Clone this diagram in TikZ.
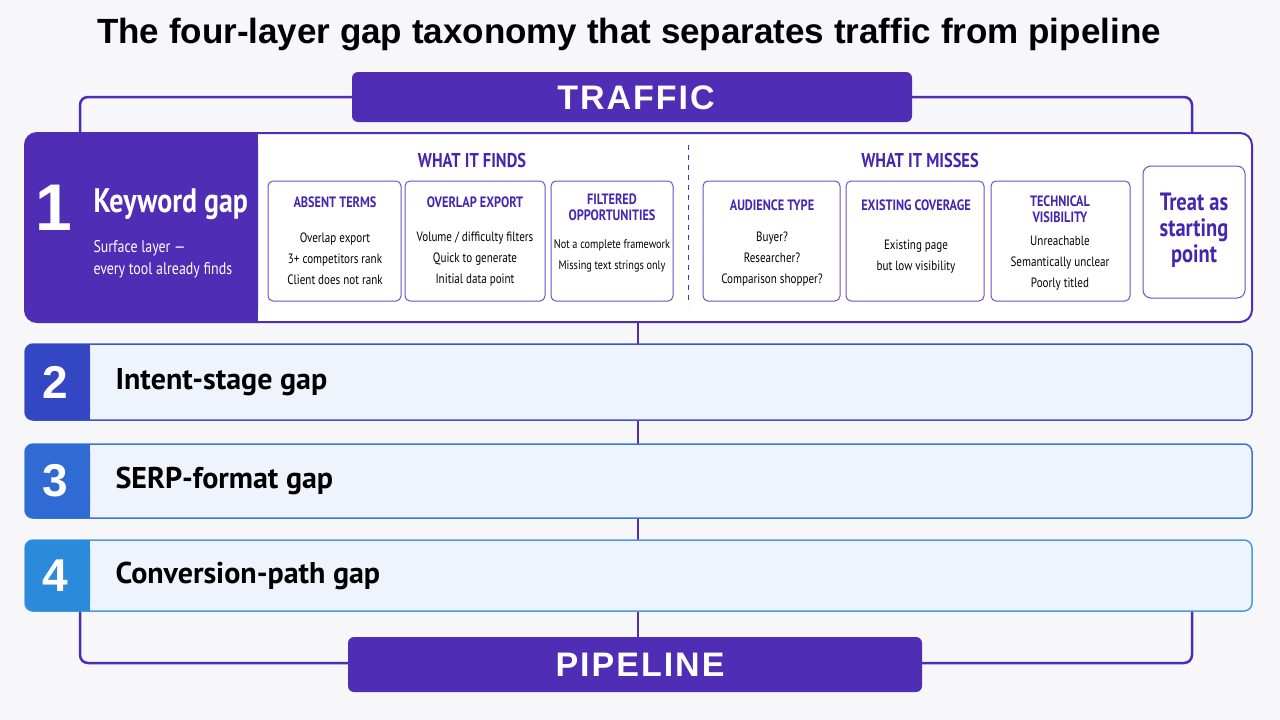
\documentclass[tikz,border=0pt]{standalone}
\usepackage{fontspec}
\setmainfont{Liberation Sans}
\newfontfamily\cond{PT Sans}[FakeStretch=0.82]
\newfontfamily\ptn{PT Sans}
\newfontfamily\head{Liberation Sans}
\usetikzlibrary{positioning}
\definecolor{bg}{HTML}{F7F7FA}
\definecolor{pur}{HTML}{4F2DB5}
\definecolor{purtxt}{HTML}{4427B0}
\definecolor{cardline}{HTML}{6B52C8}
\definecolor{cA}{HTML}{3347C4}\definecolor{bA}{HTML}{3D55CC}
\definecolor{cB}{HTML}{2F6BD2}\definecolor{bB}{HTML}{3A78D8}
\definecolor{cC}{HTML}{2C8ADB}\definecolor{bC}{HTML}{4A9AE0}
\definecolor{lbody}{HTML}{EEF3FC}
\begin{document}
\begin{tikzpicture}[x=1pt,y=-1pt,
 card/.style={draw=cardline,line width=1pt,rounded corners=5pt,fill=white},
 ctitle/.style={text=purtxt,font=\cond\bfseries\fontsize{15}{15}\selectfont,align=center},
 citem/.style={text=black,font=\cond\fontsize{13.5}{21}\selectfont,align=center},
 sec/.style={text=purtxt,font=\cond\bfseries\fontsize{20}{20}\selectfont},
 frame/.style={draw=pur,line width=2.5pt,rounded corners=8pt},
 banner/.style={fill=pur,rounded corners=6pt},
 num/.style={text=white,font=\head\bfseries\fontsize{46}{46}\selectfont},
 lname/.style={anchor=west,text=black,font=\ptn\bfseries\fontsize{30}{30}\selectfont}]
\fill[bg] (0,0) rectangle (1280,720);
\useasboundingbox (0,0) rectangle (1280,720);
\node[font=\head\bfseries\fontsize{35}{35}\selectfont] (title) at (629,35) {The four-layer gap taxonomy that separates traffic from pipeline};
% frame
\draw[frame] (80,135) -- (80,97) -- (1192,97) -- (1192,135);
\draw[frame] (80,610) -- (80,663) -- (1192,663) -- (1192,610);
% spine
\draw[pur,line width=2.5pt] (638,322) -- (638,637);
% banners
\fill[banner] (352,72) rectangle (912,122);
\node[text=white,font=\head\bfseries\fontsize{34}{34}\selectfont] (traffic) at (636,98) {T\kern2pt R\kern2pt A\kern2pt F\kern2pt F\kern2pt I\kern2pt C};
\fill[banner] (348,637) rectangle (922,692);
\node[text=white,font=\head\bfseries\fontsize{34}{34}\selectfont] (pipe) at (640,665) {P\kern2pt I\kern2pt P\kern2pt E\kern2pt L\kern2pt I\kern2pt N\kern2pt E};
% layer 1
\draw[draw=pur,line width=2pt,fill=white,rounded corners=12pt] (25,133) rectangle (1252,322);
\fill[pur,rounded corners=12pt] (25,133) -- (258,133) -- (258,322) -- (25,322) -- cycle;
\fill[pur] (200,133) rectangle (258,322);
\node[text=white,font=\head\bfseries\fontsize{66}{66}\selectfont] (n1) at (54,208) {1};
\node[anchor=west,text=white,font=\cond\bfseries\fontsize{34}{34}\selectfont] (l1) at (90,204) {Keyword gap};
\node[anchor=west,text=white,font=\cond\fontsize{17}{22}\selectfont,align=left] (l1s) at (90,259) {Surface layer —\\every tool already finds};
\node[sec] (finds) at (472,160) {WHAT IT FINDS};
\node[sec] (misses) at (920,160) {WHAT IT MISSES};
\draw[pur,line width=1pt,dash pattern=on 5pt off 5pt] (688,145) -- (688,305);
% cards
\draw[card] (268,181) rectangle (401,301);
\node[ctitle] (t1) at (335,202) {ABSENT TERMS};
\node[citem] (i1) at (335,259) {Overlap export\\3+ competitors rank\\Client does not rank};
\draw[card] (405,181) rectangle (545,301);
\node[ctitle] (t2) at (475,202) {OVERLAP EXPORT};
\node[citem] (i2) at (475,259) {Volume / difficulty filters\\Quick to generate\\Initial data point};
\draw[card] (551,181) rectangle (673,301);
\node[ctitle,font=\cond\bfseries\fontsize{15}{16}\selectfont] (t3) at (612,207) {FILTERED\\OPPORTUNITIES};
\node[citem,font=\cond\fontsize{12.5}{21}\selectfont] (i3) at (612,256) {Not a complete framework\\Missing text strings only};
\draw[card] (703,181) rectangle (840,301);
\node[ctitle] (t4) at (772,205) {AUDIENCE TYPE};
\node[citem] (i4) at (772,259) {Buyer?\\Researcher?\\Comparison shopper?};
\draw[card] (846,181) rectangle (984,301);
\node[ctitle] (t5) at (916,205) {EXISTING COVERAGE};
\node[citem] (i5) at (916,257) {Existing page\\but low visibility};
\draw[card] (991,181) rectangle (1130,301);
\node[ctitle,font=\cond\bfseries\fontsize{15}{16}\selectfont] (t6) at (1060,209) {TECHNICAL\\VISIBILITY};
\node[citem] (i6) at (1060,263) {Unreachable\\Semantically unclear\\Poorly titled};
\draw[card,rounded corners=8pt] (1143,166) rectangle (1245,298);
\node[text=purtxt,font=\cond\bfseries\fontsize{25}{26}\selectfont,align=center] (t7) at (1194,230) {Treat as\\starting\\point};
% layers 2-4
\foreach \yt/\yb/\c/\b/\n/\t in {344/420/cA/bA/2/Intent-stage gap,444/518/cB/bB/3/SERP-format gap,540/611/cC/bC/4/Conversion-path gap}{
 \draw[draw=\b,line width=1.5pt,fill=lbody,rounded corners=8pt] (25,\yt) rectangle (1252,\yb);
 \fill[\c,rounded corners=8pt] (25,\yt) rectangle (90,\yb);
 \fill[\c] (70,\yt) rectangle (90,\yb);
 \node[num] (n\n) at (55,{(\yt+\yb)/2}) {\n};
 \node[lname] (l\n) at (112,{(\yt+\yb)/2}) {\t};
}
\end{tikzpicture}
\end{document}
